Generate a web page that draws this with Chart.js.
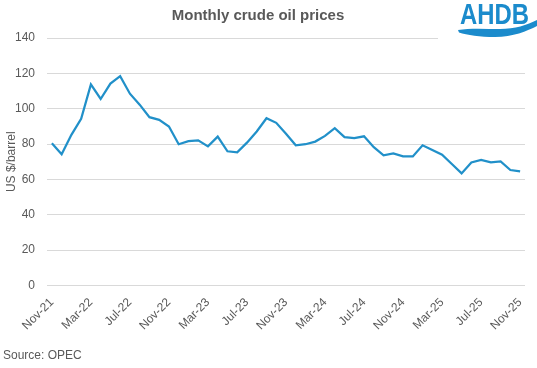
<!DOCTYPE html>
<html>
<head>
<meta charset="utf-8">
<script src="https://cdn.jsdelivr.net/npm/chart.js@4/dist/chart.umd.min.js"></script>
<style>
  html, body { margin: 0; padding: 0; background: #fff; }
  #wrap { position: relative; width: 537px; height: 368px; font-family: "Liberation Sans", Arial, sans-serif; }
  #title { position: absolute; left: 0; width: 516px; top: 6px; text-align: center; font-weight: bold; font-size: 15px; color: #595959; }
  #logo { position: absolute; left: 438px; top: 0px; }
  #source { position: absolute; left: 3px; top: 348px; font-size: 12px; color: #595959; }
</style>
</head>
<body>
<div id="wrap">
  <canvas id="chart" width="537" height="368"></canvas>
  <div id="title">Monthly crude oil prices</div>
  <svg id="logo" width="99" height="42" viewBox="-17 0 99 42">
    <rect x="-17" y="0" width="99" height="42" fill="#fff"/>
    <text x="5" y="24" font-family="Liberation Sans, Arial, sans-serif" font-weight="bold" font-size="29" fill="#1B8BCC" textLength="69" lengthAdjust="spacingAndGlyphs">AHDB</text>
    <path d="M3 30 C 15 28, 30 29, 45 29 C 60 29, 72 25, 82 20 L 82 26 C 72 31, 58 37, 40 37 C 25 37, 12 35, 4 32.5 Z" fill="#1B8BCC"/>
  </svg>
  <div id="source">Source: OPEC</div>
</div>
<script>
// monthly labels Nov-21 .. Nov-25
const months = [
  'Nov-21','Dec-21',
  'Jan-22','Feb-22','Mar-22','Apr-22','May-22','Jun-22','Jul-22','Aug-22','Sep-22','Oct-22','Nov-22','Dec-22',
  'Jan-23','Feb-23','Mar-23','Apr-23','May-23','Jun-23','Jul-23','Aug-23','Sep-23','Oct-23','Nov-23','Dec-23',
  'Jan-24','Feb-24','Mar-24','Apr-24','May-24','Jun-24','Jul-24','Aug-24','Sep-24','Oct-24','Nov-24','Dec-24',
  'Jan-25','Feb-25','Mar-25','Apr-25','May-25','Jun-25','Jul-25','Aug-25','Sep-25','Oct-25','Nov-25'
];

// US $/barrel
const prices = [
  80.4, 74.2,
  85.2, 94.3, 113.7, 105.5, 114.2, 118.4, 108.5, 102.3, 95.2, 93.7, 89.9, 79.9,
  81.6, 82.1, 78.7, 84.2, 75.9, 75.3, 80.8, 87.1, 94.6, 92.0, 85.8, 79.3,
  79.9, 81.4, 84.6, 89.0, 83.9, 83.3, 84.4, 78.2, 73.6, 74.7, 73.0, 73.0,
  79.3, 76.6, 74.0, 68.7, 63.4, 69.6, 71.0, 69.6, 70.2, 65.3, 64.5
];

const yTicks = [0, 20, 40, 60, 80, 100, 120, 140];

const grey = '#595959';
const font = { family: '"Liberation Sans", Arial, sans-serif', size: 12 };

new Chart(document.getElementById('chart'), {
  type: 'line',
  data: {
    labels: months,
    datasets: [{
      label: 'Crude oil price',
      data: prices,
      borderColor: '#2190C9',
      borderWidth: 2.25,
      pointRadius: 0,
      tension: 0,
      fill: false
    }]
  },
  options: {
    responsive: false,
    animation: false,
    layout: { padding: { top: 38, left: 0, right: 12, bottom: 33 } },
    plugins: {
      legend: { display: false },
      tooltip: { enabled: false }
    },
    scales: {
      x: {
        offset: true,
        grid: { display: false },
        border: { display: false },
        ticks: {
          autoSkip: false,
          maxRotation: 45,
          minRotation: 45,
          color: grey,
          font: font,
          padding: 2,
          callback: function(val, i) { return i % 4 === 0 ? months[i] : ''; }
        }
      },
      y: {
        min: yTicks[0],
        max: yTicks[yTicks.length - 1],
        afterBuildTicks: function(axis) { axis.ticks = yTicks.map(v => ({ value: v })); },
        afterFit: function(axis) { axis.width = 47; },
        grid: { color: '#D9D9D9', lineWidth: 1, drawTicks: false },
        border: { display: false },
        ticks: { color: grey, font: font, padding: 12 },
        title: { display: true, text: 'US $/barrel', color: grey, font: font, padding: { top: 4, bottom: 0 } }
      }
    }
  }
});
</script>
</body>
</html>
